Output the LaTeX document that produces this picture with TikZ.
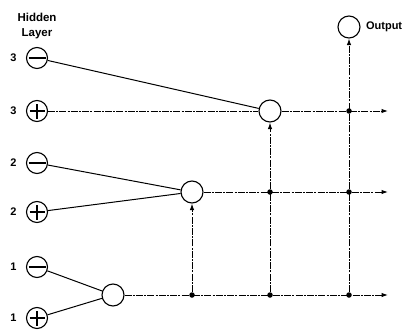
\documentclass[tikz,border=0pt]{standalone}
\usepackage{fontspec}
\setmainfont{Liberation Sans}
\usetikzlibrary{arrows.meta}
\begin{document}
\begin{tikzpicture}[x=1pt,y=-1pt,
  hid/.style={circle,draw,line width=1.1pt,minimum size=21pt,inner sep=0pt},
  comb/.style={circle,draw,line width=1.1pt,minimum size=22pt,inner sep=0pt,fill=white},
  dotnode/.style={circle,fill=black,minimum size=5.5pt,inner sep=0pt},
  lbl/.style={font=\fontsize{11}{12}\selectfont\bfseries},
  solidline/.style={line width=1pt},
  dashline/.style={line width=1pt,dash pattern=on 7pt off 1.2pt on 2pt off 1.2pt},
  arr/.style={-{Latex[length=6.5pt,width=4.5pt]}}
]
\useasboundingbox (0,0) rectangle (409,329);
% hidden layer nodes
\node[hid] (m3) at (37,58) {};
\node[hid] (p3) at (37,111) {};
\node[hid] (m2) at (37,163) {};
\node[hid] (p2) at (37,212) {};
\node[hid] (m1) at (37,267) {};
\node[hid] (p1) at (37,318) {};
\foreach \n in {m3,m2,m1}{
  \draw[line width=1.1pt] ([xshift=-8.5pt]\n.center) -- ([xshift=8.5pt]\n.center);
}
\foreach \n in {p3,p2,p1}{
  \draw[line width=1.1pt] ([xshift=-7.5pt]\n.center) -- ([xshift=7.5pt]\n.center);
  \draw[line width=1.1pt] ([yshift=-7.5pt]\n.center) -- ([yshift=7.5pt]\n.center);
}
% labels
\node[lbl,anchor=east] (l3a) at (m3.west) [xshift=-6pt] {3};
\node[lbl,anchor=east] (l3b) at (p3.west) [xshift=-6pt] {3};
\node[lbl,anchor=east] (l2a) at (m2.west) [xshift=-6pt] {2};
\node[lbl,anchor=east] (l2b) at (p2.west) [xshift=-6pt] {2};
\node[lbl,anchor=east] (l1a) at (m1.west) [xshift=-6pt] {1};
\node[lbl,anchor=east] (l1b) at (p1.west) [xshift=-6pt] {1};
\node[align=center,font=\fontsize{11.5}{15}\selectfont\bfseries] (hl) at (37,26) {Hidden\\Layer};
% combination nodes
\node[comb] (c1) at (113,295) {};
\node[comb] (c2) at (192,192) {};
\node[comb] (c3) at (270,111) {};
\node[comb] (out) at (349,27) {};
\node[lbl,anchor=west] (outl) at (out.east) [xshift=2pt] {Output};
% dots
\node[dotnode] (d11) at (192,295) {};
\node[dotnode] (d12) at (270,295) {};
\node[dotnode] (d13) at (349,295) {};
\node[dotnode] (d22) at (270,192) {};
\node[dotnode] (d23) at (349,192) {};
\node[dotnode] (d33) at (349,111) {};
\coordinate (e1) at (388,295);
\coordinate (e2) at (388,192);
\coordinate (e3) at (388,111);
% inputs
\draw[solidline] (m3) -- (c3);
\draw[dashline] (p3) -- (c3);
\draw[solidline] (m2) -- (c2);
\draw[solidline] (p2) -- (c2);
\draw[solidline] (m1) -- (c1);
\draw[solidline] (p1) -- (c1);
% horizontal rows
\draw[dashline,arr] (c1) -- (e1);
\draw[dashline,arr] (c2) -- (e2);
\draw[dashline,arr] (c3) -- (e3);
% verticals
\draw[dashline,arr] (d11) -- (c2);
\draw[dashline,arr] (d12) -- (c3);
\draw[dashline,arr] (d13) -- (out);
\end{tikzpicture}
\end{document}
